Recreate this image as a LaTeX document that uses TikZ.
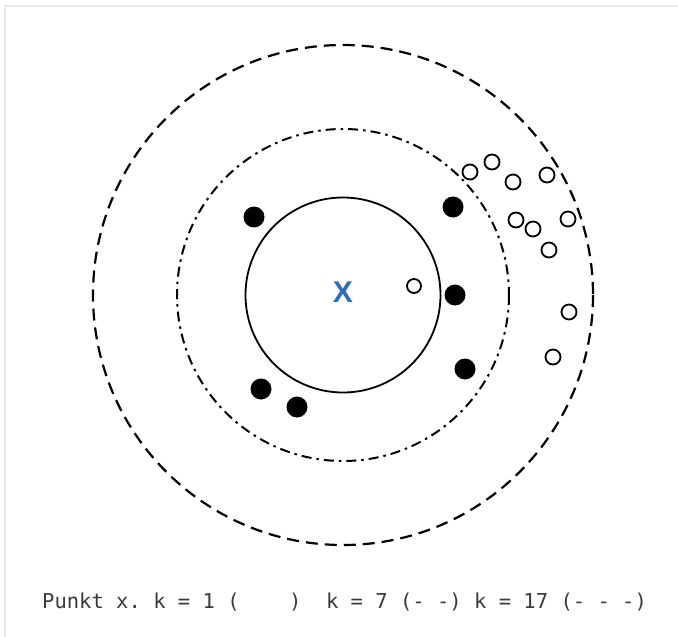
\documentclass[tikz,border=0pt]{standalone}
\usepackage{fontspec}
\setmainfont{Liberation Sans}
\setmonofont{DejaVu Sans Mono}
\definecolor{xblue}{HTML}{2E6DB4}
\definecolor{framegray}{HTML}{E8E8E8}
\definecolor{txtgray}{HTML}{3A3A3A}
\begin{document}
\begin{tikzpicture}[x=1pt,y=-1pt,
  fdot/.style={circle,fill=black,inner sep=0pt,minimum size=21pt},
  odot/.style={circle,draw=black,line width=1.8pt,fill=white,inner sep=0pt,minimum size=15pt},
  ring1/.style={draw=black,line width=1.8pt},
  ring7/.style={draw=black,line width=2pt,dash pattern=on 10pt off 5pt on 2.5pt off 5pt},
  ring17/.style={draw=black,line width=2.2pt,dash pattern=on 12pt off 7pt},
  caption/.style={font=\ttfamily\fontsize{20.5}{24}\selectfont,text=txtgray,anchor=base west,inner sep=0pt}]
\useasboundingbox (0,0) rectangle (678,637);
\fill[white] (0,0) rectangle (678,637);
\draw[framegray,line width=2pt] (5,637) -- (5,6) -- (678,6);
\coordinate (c) at (343,295);
\draw[ring1] (c) circle[radius=97.5];
\draw[ring7] (c) circle[radius=166];
\draw[ring17] (c) circle[radius=250];
\node[font=\bfseries\fontsize{30}{32}\selectfont,text=xblue,inner sep=0pt] (x) at (343,292) {X};
% filled points
\node[fdot] (f1) at (254,217) {};
\node[fdot] (f2) at (453,207) {};
\node[fdot] (f3) at (455,295) {};
\node[fdot] (f4) at (465,369) {};
\node[fdot] (f5) at (261,389) {};
\node[fdot] (f6) at (297,407) {};
% open points
\node[odot,minimum size=14pt] (o1) at (414,286) {};
\node[odot] (o2) at (470,172) {};
\node[odot] (o3) at (492,162) {};
\node[odot] (o4) at (513,182) {};
\node[odot] (o5) at (547,175) {};
\node[odot] (o6) at (516,220) {};
\node[odot] (o7) at (533,229) {};
\node[odot] (o8) at (568,219) {};
\node[odot] (o9) at (549,250) {};
\node[odot] (o10) at (569,312) {};
\node[odot] (o11) at (553,357) {};
\node[caption] (cap) at (42,608) {Punkt~x.~k~=~1~(~~~~)~~k~=~7~(-~-)~k~=~17~(-~-~-)};
\end{tikzpicture}
\end{document}
